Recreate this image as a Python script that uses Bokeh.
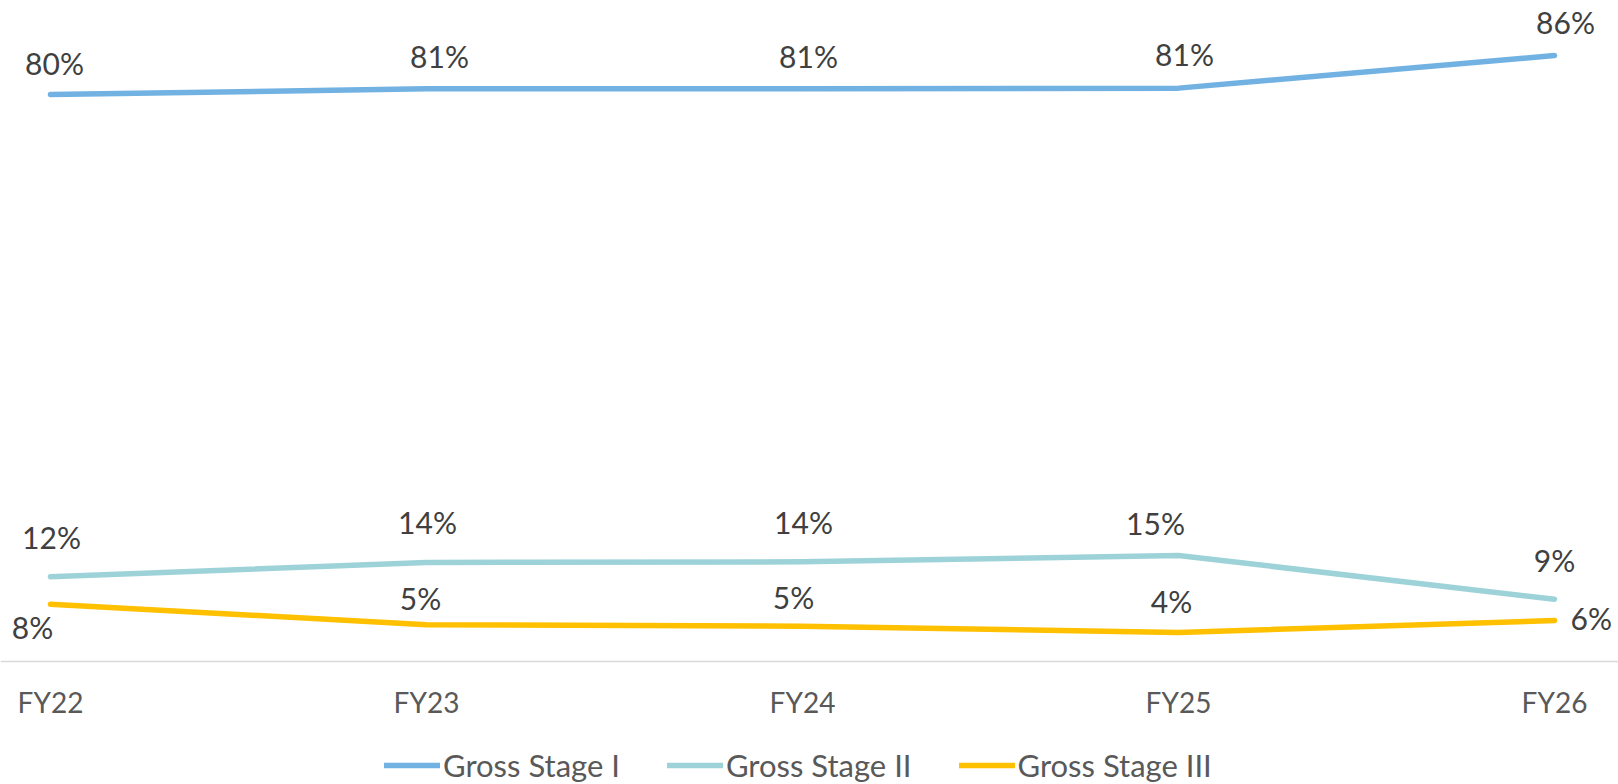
from bokeh.plotting import figure
from bokeh.models import ColumnDataSource, Legend, LegendItem, FixedTicker, Range1d
from bokeh.core.properties import value
from bokeh.embed import file_html
from bokeh.resources import INLINE

# ---- data ----
categories = ["FY22", "FY23", "FY24", "FY25", "FY26"]
stage1 = [0.802, 0.810, 0.810, 0.811, 0.857]
stage2 = [0.120, 0.140, 0.141, 0.150, 0.088]
stage3 = [0.081, 0.052, 0.050, 0.041, 0.058]
series_names = ["Gross Stage I", "Gross Stage II", "Gross Stage III"]

# ---- styles / label placement (screen px) ----
colors = ["#71B2E3", "#9DD3D8", "#FFC000"]
label_dx = [[4, 13, 6, 6, 11], [1, 1, 1, -23, 0], [-18, -6, -9, -7, 16]]
label_dy = [[-31, -33, -33, -34, -34], [-40, -41, -40, -32, -39], [23, -27, -29, -32, -2]]
label_align = [["center"] * 5, ["center"] * 5, ["center"] * 4 + ["left"]]

FONT = "Lato"
LABEL_FS = "30px"
AXIS_FS = "28px"
LEGEND_FS = "31px"

xs = list(range(len(categories)))

p = figure(width=1618, height=784, output_backend="svg", toolbar_location=None,
           x_range=Range1d(-0.13298, 4.17021), y_range=Range1d(-0.17397, 0.93494),
           min_border_left=0, min_border_right=0,
           min_border_top=0, min_border_bottom=0)
p.outline_line_color = None
p.grid.visible = False
p.yaxis.visible = False
p.background_fill_color = "white"
p.border_fill_color = "white"

xa = p.xaxis[0]
xa.fixed_location = 0
xa.ticker = FixedTicker(ticks=xs)
xa.major_label_overrides = {i: c for i, c in enumerate(categories)}
xa.major_tick_line_color = None
xa.minor_tick_line_color = None
xa.major_tick_out = 0
xa.major_tick_in = 0
xa.axis_line_color = "#D9D9D9"
xa.axis_line_width = 1.5
xa.major_label_text_font = FONT
xa.major_label_text_font_size = AXIS_FS
xa.major_label_text_color = "#595959"
xa.major_label_standoff = 23

items = []
for k, vals in enumerate([stage1, stage2, stage3]):
    src = ColumnDataSource(dict(
        x=xs, y=vals,
        label=[f"{round(v * 100):d}%" for v in vals],
        dx=label_dx[k], dy=label_dy[k], align=label_align[k],
    ))
    r = p.line("x", "y", source=src, line_color=colors[k], line_width=5.5,
               line_cap="round", line_join="round")
    p.text("x", "y", text="label", source=src, x_offset="dx", y_offset="dy",
           text_align="align", text_baseline="alphabetic",
           text_font=value(FONT), text_font_size=value(LABEL_FS), text_color="#404040")
    items.append(LegendItem(label=series_names[k], renderers=[r]))

legend = Legend(items=items, orientation="horizontal", location=(384, 0),
                label_text_font=FONT, label_text_font_size=LEGEND_FS,
                label_text_color="#595959", glyph_width=56, glyph_height=20,
                label_standoff=3, spacing=47, padding=0, margin=0,
                border_line_color=None, background_fill_alpha=0)
p.add_layout(legend)

open("out.html", "w").write(file_html(p, INLINE))
